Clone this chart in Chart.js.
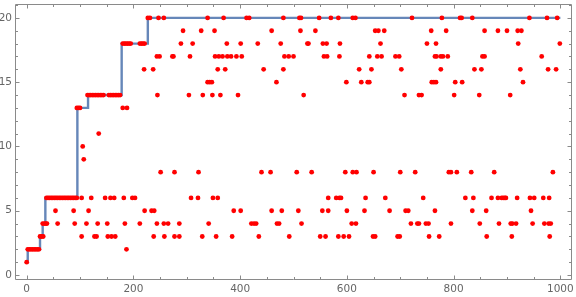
<!DOCTYPE html>
<html>
<head>
<meta charset="utf-8">
<script src="https://cdn.jsdelivr.net/npm/chart.js@4"></script>
<style>
  html, body { margin: 0; padding: 0; background: #ffffff; }
  #wrap { width: 576px; height: 297px; }
</style>
</head>
<body>
<div id="wrap"><canvas id="c" width="576" height="297"></canvas></div>
<script>
// ---- data ----
const xTickLabels = [0, 200, 400, 600, 800, 1000];
const yTickLabels = [0, 5, 10, 15, 20];

// running-record step line (blue)
const stepX = [0, 2, 25, 30, 35, 95, 115, 178, 227, 1000];
const stepY = [1, 2, 3, 4, 6, 13, 14, 18, 20, 20];

// red points: level (y) and the x positions observed at that level
const levels = [1, 2, 3, 4, 5, 6, 8, 9, 10, 11, 13, 14, 15, 16, 17, 18, 19, 20];
const xsByLevel = [
  [0],
  [2, 5, 8, 11, 14, 17, 20, 23, 187],
  [25, 28, 31, 103, 127, 131, 152, 159, 166, 238, 258, 277, 286, 329, 355, 385, 435, 492, 550, 560, 584, 594, 604, 649, 653, 695, 699, 754, 773, 862, 909, 980],
  [30, 33, 36, 38, 58, 90, 112, 133, 151, 184, 212, 244, 257, 265, 286, 341, 421, 426, 430, 469, 473, 515, 609, 617, 720, 732, 735, 748, 753, 795, 849, 885, 907, 910, 917, 948, 970, 978, 982],
  [54, 88, 116, 221, 234, 239, 388, 401, 459, 478, 509, 554, 565, 600, 633, 680, 710, 715, 765, 835, 861, 945],
  [37, 40, 43, 46, 49, 52, 55, 58, 61, 64, 67, 70, 73, 76, 79, 82, 85, 88, 91, 94, 103, 121, 147, 157, 164, 182, 198, 203, 308, 321, 349, 358, 565, 580, 586, 589, 635, 672, 743, 822, 837, 871, 883, 890, 893, 896, 898, 919, 943, 951, 968, 979],
  [251, 277, 322, 440, 457, 506, 534, 597, 611, 618, 650, 700, 728, 791, 795, 806, 833, 876, 986],
  [107],
  [105],
  [135],
  [94, 97, 100, 180, 188],
  [114, 117, 120, 123, 126, 129, 132, 135, 138, 141, 144, 154, 157, 160, 163, 166, 169, 172, 175, 245, 304, 330, 348, 363, 396, 519, 708, 735, 740, 801, 848, 906],
  [339, 343, 347, 468, 599, 627, 639, 642, 759, 763, 767, 803, 816, 930],
  [220, 237, 358, 372, 444, 481, 623, 646, 702, 776, 839, 852, 925, 977, 992],
  [244, 249, 273, 275, 306, 353, 360, 367, 376, 383, 393, 403, 483, 491, 500, 557, 563, 586, 642, 657, 665, 691, 698, 765, 768, 776, 780, 789, 854, 858, 965],
  [180, 183, 186, 189, 192, 195, 212, 215, 218, 221, 289, 311, 375, 401, 433, 476, 526, 528, 555, 562, 587, 663, 750, 767, 921, 999],
  [293, 327, 352, 459, 513, 541, 653, 659, 670, 758, 786, 858, 883, 900, 920, 927],
  [227, 231, 247, 257, 339, 369, 412, 417, 481, 511, 514, 548, 570, 584, 611, 616, 722, 778, 812, 815, 835, 942, 975, 994]
];

// ---- build library data ----
const redPoints = [];
levels.forEach((lv, i) => xsByLevel[i].forEach(x => redPoints.push({ x: x, y: lv })));
const stepPoints = stepX.map((x, i) => ({ x: x, y: stepY[i] }));

const FRAME = '#8a8a8a';
const TEXT = '#666666';

const framePlugin = {
  id: 'frame',
  afterDatasetsDraw(chart) {
    const { ctx, chartArea: a, scales } = chart;
    const xs = scales.x, ys = scales.y;
    const L = Math.floor(a.left) - 0.5, R = Math.round(a.right) - 0.5;
    const T = Math.round(a.top) + 0.5, B = Math.round(a.bottom) - 0.5;
    ctx.save();
    ctx.strokeStyle = FRAME;
    ctx.lineWidth = 1;
    ctx.beginPath();
    ctx.rect(L, T, R - L, B - T);
    ctx.stroke();
    ctx.beginPath();
    // x ticks (major + minor), bottom and top, inward
    for (let v = 0; v <= 1000; v += 50) {
      const major = xTickLabels.includes(v);
      const len = major ? 4 : 2.5;
      const px = Math.round(xs.getPixelForValue(v)) + 0.5;
      ctx.moveTo(px, B); ctx.lineTo(px, B - len);
      ctx.moveTo(px, T); ctx.lineTo(px, T + len);
    }
    // y ticks
    for (let v = 0; v <= 21; v += 1) {
      const major = yTickLabels.includes(v);
      const len = major ? 4 : 2.5;
      const py = Math.round(ys.getPixelForValue(v)) + 0.5;
      ctx.moveTo(L, py); ctx.lineTo(L + len, py);
      ctx.moveTo(R, py); ctx.lineTo(R - len, py);
    }
    ctx.stroke();
    ctx.restore();
  }
};

const tickFont = { family: 'DejaVu Sans', size: 10.5 };

new Chart(document.getElementById('c'), {
  type: 'scatter',
  data: {
    datasets: [
      {
        label: 'values',
        data: redPoints,
        order: 0,
        pointRadius: 2.4,
        pointBackgroundColor: '#ff0000',
        pointBorderWidth: 0,
        showLine: false
      },
      {
        label: 'record',
        data: stepPoints,
        order: 1,
        showLine: true,
        stepped: true,
        borderColor: 'rgba(94,129,181,0.95)',
        borderWidth: 2.4,
        pointRadius: 0,
        fill: false
      }
    ]
  },
  options: {
    responsive: false,
    animation: false,
    events: [],
    layout: { padding: { left: 0, right: 2, top: 1, bottom: 0 } },
    plugins: { legend: { display: false }, tooltip: { enabled: false } },
    scales: {
      x: {
        type: 'linear',
        min: -20,
        max: 1021.8,
        afterBuildTicks: s => { s.ticks = xTickLabels.map(v => ({ value: v })); },
        afterFit: s => { s.height = 17; s.paddingLeft = 0; s.paddingRight = 0; },
        grid: { display: false, drawTicks: false },
        border: { display: false },
        ticks: {
          padding: 3, color: TEXT, font: tickFont, maxRotation: 0, autoSkip: false,
          callback: v => String(v)
        }
      },
      y: {
        type: 'linear',
        min: -0.385,
        max: 21.08,
        afterBuildTicks: s => { s.ticks = yTickLabels.map(v => ({ value: v })); },
        afterFit: s => { s.width = 16; s.paddingTop = 0; s.paddingBottom = 0; },
        grid: { display: false, drawTicks: false },
        border: { display: false },
        ticks: {
          padding: 4, color: TEXT, font: tickFont, autoSkip: false,
          callback: v => String(v)
        }
      }
    }
  },
  plugins: [framePlugin]
});
</script>
</body>
</html>
